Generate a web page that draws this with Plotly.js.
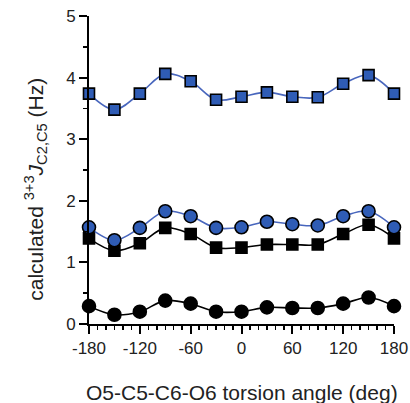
<!DOCTYPE html>
<html>
<head>
<meta charset="utf-8">
<script src="https://cdn.plot.ly/plotly-3.0.1.min.js"></script>
<style>html,body{margin:0;padding:0;background:#fff;}#chart{width:410px;height:403px;}</style>
</head>
<body>
<div id="chart"></div>
<script>
var angles = [-180, -150, -120, -90, -60, -30, 0, 30, 60, 90, 120, 150, 180];
var blueSquares = [3.74, 3.48, 3.74, 4.06, 3.94, 3.64, 3.69, 3.76, 3.69, 3.68, 3.90, 4.04, 3.74];
var blueCircles = [1.57, 1.36, 1.56, 1.83, 1.75, 1.56, 1.57, 1.66, 1.62, 1.60, 1.75, 1.83, 1.57];
var blackSquares = [1.39, 1.19, 1.31, 1.56, 1.46, 1.24, 1.24, 1.29, 1.29, 1.29, 1.46, 1.61, 1.39];
var blackCircles = [0.29, 0.15, 0.20, 0.38, 0.33, 0.20, 0.20, 0.27, 0.26, 0.26, 0.33, 0.43, 0.29];
var xTicks = [-180, -120, -60, 0, 60, 120, 180];
var yTicks = [0, 1, 2, 3, 4, 5];

var BLUE = '#2f5cb5';
var BLUELINE = '#4866bd';

function series(y, sym, fill, lineColor) {
  return {
    x: angles, y: y, type: 'scatter', mode: 'lines+markers',
    line: {shape: 'spline', smoothing: 1, color: lineColor, width: 1.6},
    marker: {symbol: sym, size: sym === 'square' ? 11 : 13, color: fill, line: {color: '#000', width: 1.6}},
    cliponaxis: false, hoverinfo: 'skip'
  };
}

var data = [
  series(blackCircles, 'circle', '#000', '#000'),
  series(blackSquares, 'square', '#000', '#000'),
  series(blueCircles, 'circle', BLUE, BLUELINE),
  series(blueSquares, 'square', BLUE, BLUELINE)
];

var layout = {
  width: 410, height: 403,
  margin: {l: 89, r: 16, t: 16, b: 79},
  paper_bgcolor: '#fff', plot_bgcolor: '#fff',
  showlegend: false,
  font: {family: 'Liberation Sans, Arial, sans-serif', color: '#222'},
  xaxis: {
    range: [-180, 180], tickvals: xTicks, ticktext: xTicks.map(String),
    showgrid: false, zeroline: false, showline: true, linecolor: '#000', linewidth: 2,
    ticks: 'outside', ticklen: 8, tickwidth: 2, tickcolor: '#000',
    tickfont: {size: 17, color: '#222'},
    minor: {dtick: 10, tick0: 0, ticks: 'outside', ticklen: 4, tickwidth: 1.5, tickcolor: '#000', showgrid: false}
  },
  yaxis: {
    range: [0, 5], tickvals: yTicks, ticktext: yTicks.map(String),
    showgrid: false, zeroline: false, showline: true, linecolor: '#000', linewidth: 2,
    ticks: 'outside', ticklen: 8, tickwidth: 2, tickcolor: '#000',
    tickfont: {size: 17, color: '#222'},
    minor: {dtick: 0.5, tick0: 0, ticks: 'outside', ticklen: 4, tickwidth: 1.5, tickcolor: '#000', showgrid: false}
  },
  annotations: [
    {text: 'O5-C5-C6-O6 torsion angle (deg)', xref: 'paper', yref: 'paper',
     x: 0.5, y: -0.222, xanchor: 'center', yanchor: 'middle', showarrow: false,
     font: {size: 21, color: '#222'}},
    {text: 'calculated <sup>3+3</sup><i>J</i><sub>C2,C5</sub> (Hz)', xref: 'paper', yref: 'paper',
     x: -0.176, y: 0.437, xanchor: 'center', yanchor: 'middle', textangle: -90, showarrow: false,
     font: {size: 21, color: '#222'}}
  ]
};

Plotly.newPlot('chart', data, layout, {staticPlot: true, displayModeBar: false});
</script>
</body>
</html>
